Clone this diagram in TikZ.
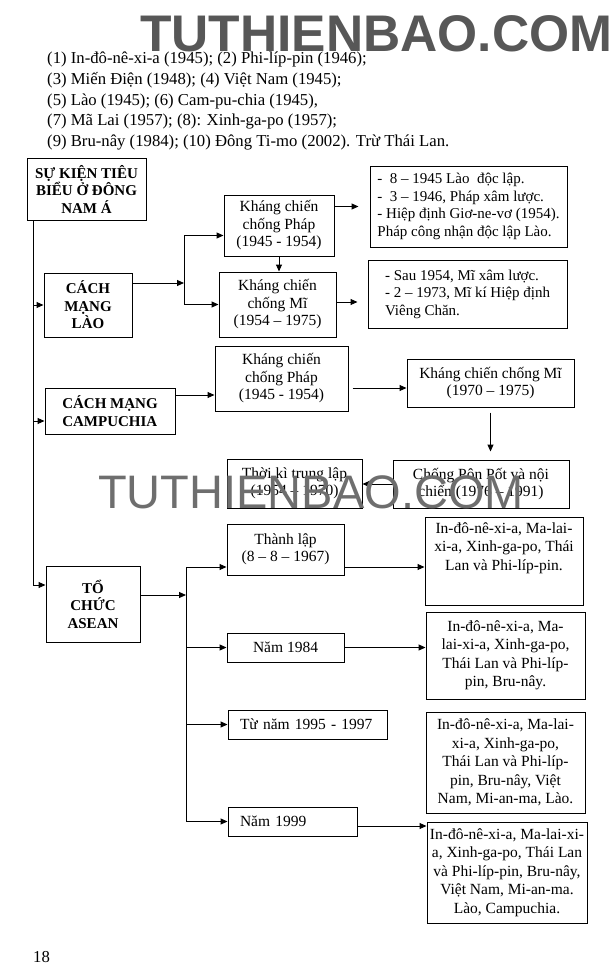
\documentclass[tikz,border=0pt]{standalone}
\usepackage{fontspec}
\setmainfont{Liberation Serif}
\newfontfamily\wmfont{Liberation Sans}
\usetikzlibrary{arrows.meta}
\definecolor{wmdark}{HTML}{575757}
\definecolor{wmlight}{HTML}{6E6E6E}
\begin{document}
\begin{tikzpicture}[x=1pt,y=-1pt,
  box/.style={draw, line width=1pt, inner sep=0pt, align=center, font=\fontsize{15.5}{17.5}\selectfont},
  sbox/.style={box, align=left, font=\fontsize{15}{17.5}\selectfont},
  hbox/.style={box, font=\bfseries\fontsize{15}{17.5}\selectfont},
  abox/.style={draw, line width=1pt, inner sep=0pt},
  atext/.style={anchor=north, inner sep=0pt, align=center, font=\fontsize{15.5}{18.5}\selectfont},
  txt/.style={anchor=base west, inner sep=0pt, font=\fontsize{16.7}{20}\selectfont},
  arr/.style={-{Triangle[length=7pt,width=6pt]}, line width=1pt},
  ln/.style={line width=1pt},
  wmone/.style={anchor=base west, inner sep=0pt, text=wmdark, font=\wmfont\bfseries\fontsize{51.5}{52}\selectfont},
  wmtwo/.style={anchor=base west, inner sep=0pt, text=wmlight, font=\wmfont\fontsize{47}{48}\selectfont}
]
\fill[white] (0,0) rectangle (615,980);
\useasboundingbox (0,0) rectangle (615,980);

% header text
\node[wmone] (wmTop) at (140,51) {TUTHIENBAO.COM};
\node[txt] (l1) at (47,63) {(1) In-đô-nê-xi-a (1945); (2) Phi-líp-pin (1946);};
\node[txt] (l2) at (47,84) {(3) Miến Điện (1948); (4) Việt Nam (1945);};
\node[txt] (l3) at (47,105) {(5) Lào (1945); (6) Cam-pu-chia (1945),};
\node[txt] (l4) at (47,125) {(7) Mã Lai (1957); (8): Xinh-ga-po (1957);};
\node[txt] (l5) at (47,146) {(9) Bru-nây (1984); (10) Đông Ti-mo (2002). Trừ Thái Lan.};

% main boxes
\node[hbox, minimum width=119pt, minimum height=62pt] (sk) at (86.5,189) {SỰ KIỆN TIÊU\\BIỂU Ở ĐÔNG\\NAM Á};
\node[hbox, minimum width=88pt, minimum height=64pt] (laoR) at (88,305) {CÁCH\\MẠNG\\LÀO};
\node[box, minimum width=110pt, minimum height=61pt] (laoP) at (279,225.5) {Kháng chiến\\chống Pháp\\(1945 - 1954)};
\node[box, minimum width=117pt, minimum height=65pt] (laoM) at (277.5,304.5) {Kháng chiến\\chống Mĩ\\(1954 – 1975)};
\node[sbox, minimum width=197pt, minimum height=81pt] (laoP2) at (468.5,206.5) {-\ \ 8 – 1945 Lào\ \ độc lập.\\-\ \ 3 – 1946, Pháp xâm lược.\\- Hiệp định Giơ-ne-vơ (1954).\\Pháp công nhận độc lập Lào.};
\node[sbox, minimum width=199pt, minimum height=68pt] (laoM2) at (467.5,294) {- Sau 1954, Mĩ xâm lược.\\- 2 – 1973, Mĩ kí Hiệp định\\Viêng Chăn.};

\node[hbox, align=left, minimum width=130pt, minimum height=46pt] (camR) at (110,411) {CÁCH MẠNG\\CAMPUCHIA};
\node[box, minimum width=133pt, minimum height=65pt] (camP) at (281.5,378.5) {Kháng chiến\\chống Pháp\\(1945 - 1954)};
\node[box, minimum width=167pt, minimum height=48pt] (camM) at (490.5,383) {Kháng chiến chống Mĩ\\(1970 – 1975)};
\node[box, minimum width=176pt, minimum height=48pt] (camPP) at (481,484) {Chống Pôn Pốt và nội\\chiến (1976 – 1991)};
\node[box, minimum width=135pt, minimum height=49pt] (camT) at (294.5,483.5) {Thời kì trung lập\\(1954 – 1970)};

\node[hbox, minimum width=94pt, minimum height=76pt] (as) at (93,604) {TỔ\\CHỨC\\ASEAN};
\node[box, minimum width=117pt, minimum height=51pt] (asTL) at (285.5,549.5) {Thành lập\\(8 – 8 – 1967)};
\node[box, minimum width=117pt, minimum height=29pt] (as84) at (285.5,647.5) {Năm 1984};
\node[box, align=left, text width=135pt, minimum width=159pt, minimum height=29pt] (as95) at (307.5,724.5) {Từ năm 1995 - 1997};
\node[box, align=left, text width=105pt, minimum width=129pt, minimum height=29pt] (as99) at (292.5,821.5) {Năm 1999};

\node[abox, minimum width=158pt, minimum height=88pt] (r1) at (504,561) {};
\node[atext] (r1t) at ([yshift=-6pt]r1.north) {In-đô-nê-xi-a, Ma-lai-\\xi-a, Xinh-ga-po, Thái\\Lan và Phi-líp-pin.};
\node[abox, minimum width=159pt, minimum height=87pt] (r2) at (505.5,655.5) {};
\node[atext, anchor=center] (r2t) at (r2.center) {In-đô-nê-xi-a, Ma-\\lai-xi-a, Xinh-ga-po,\\Thái Lan và Phi-líp-\\pin, Bru-nây.};
\node[abox, minimum width=159pt, minimum height=101pt] (r3) at (505.5,762.5) {};
\node[atext, anchor=center] (r3t) at (r3.center) {In-đô-nê-xi-a, Ma-lai-\\xi-a, Xinh-ga-po,\\Thái Lan và Phi-líp-\\pin, Bru-nây, Việt\\Nam, Mi-an-ma, Lào.};
\node[abox, minimum width=160pt, minimum height=101pt] (r4) at (507,872.5) {};
\node[atext, anchor=center] (r4t) at (r4.center) {In-đô-nê-xi-a, Ma-lai-xi-\\a, Xinh-ga-po, Thái Lan\\và Phi-líp-pin, Bru-nây,\\Việt Nam, Mi-an-ma.\\Lào, Campuchia.};

% trunk
\coordinate (tA) at (33,585);
\draw[arr] (sk.south -| tA) -- (tA) -- (tA -| as.west);
\draw[arr] (tA |- laoR.west) -- (laoR.west);
\coordinate (cIn) at ([yshift=-10pt]camR.west);
\draw[arr] (tA |- cIn) -- (cIn);

% Lao
\coordinate (lV) at (184,0);
\coordinate (lOut) at ([yshift=22pt]laoR.east);
\draw[arr] (lOut) -- (lOut -| lV);
\coordinate (pIn) at ([yshift=-10pt]laoP.west);
\draw[ln] (lV |- pIn) -- (lV |- laoM.west);
\draw[arr] (lV |- pIn) -- (pIn);
\draw[arr] (lV |- laoM.west) -- (laoM.west);
\draw[arr] (laoP.south) -- (laoP.south |- laoM.north);
\coordinate (p2In) at ([xshift=-11pt]laoP2.west);
\draw[arr] (laoP.east |- p2In) -- (p2In);
\coordinate (m2In) at ([xshift=-10pt,yshift=-8pt]laoM2.west);
\draw[arr] (laoM.east |- m2In) -- (m2In);

% Campuchia
\coordinate (cOut) at ([yshift=16pt]camR.east);
\draw[arr] (cOut) -- (cOut -| camP.west);
\coordinate (cmIn) at ([yshift=-5pt]camM.west);
\draw[arr, shorten <=4pt] (camP.east |- cmIn) -- (cmIn);
\draw[arr, shorten <=5pt, shorten >=8pt] (camM.south) -- (camM.south |- camPP.north);
\draw[arr] (camPP.west) -- (camPP.west -| camT.east);

% ASEAN
\coordinate (aV) at (186,0);
\coordinate (aOut) at ([yshift=9pt]as.east);
\draw[arr] (aOut) -- (aOut -| aV);
\coordinate (tlIn) at ([yshift=-17.5pt]asTL.west);
\draw[ln] (aV |- tlIn) -- (aV |- as99.west);
\draw[arr] (aV |- tlIn) -- (tlIn);
\draw[arr] (aV |- as84.west) -- (as84.west);
\draw[arr] (aV |- as95.west) -- (as95.west);
\draw[arr] (aV |- as99.west) -- (as99.west);
\draw[arr] (asTL.east |- tlIn) -- (r1.west |- tlIn);
\draw[arr] (as84.east) -- (as84.east -| r2.west);
\coordinate (n9Out) at ([yshift=-4.5pt]as99.east);
\draw[arr] (n9Out) -- (n9Out -| r4.west);

% page number and watermark
\node[txt] (pg) at (33,962) {18};
\node[wmtwo] (wmMid) at (98,508) {TUTHIENBAO.COM};
\end{tikzpicture}
\end{document}
